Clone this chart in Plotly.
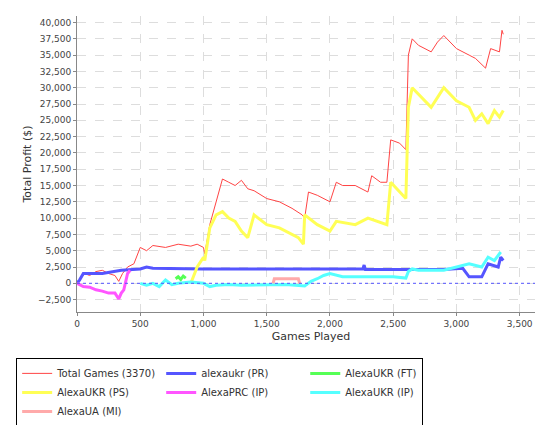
import plotly.graph_objects as go

# series data (games played, profit $)
total_x = [0, 30, 60, 100, 150, 200, 250, 300, 330, 360, 400, 450, 500, 550, 600, 700, 800, 900, 950, 1000, 1010,
           1050, 1100, 1150, 1200, 1250, 1300, 1350, 1400, 1500, 1600, 1700, 1780, 1800, 1830, 1900, 2000, 2050,
           2100, 2200, 2300, 2330, 2400, 2450, 2480, 2550, 2600, 2620, 2650, 2700, 2800, 2850, 2900, 2950, 3000,
           3100, 3150, 3230, 3270, 3340, 3360, 3370]
total_y = [0, 800, 1500, 1200, 1800, 2000, 1500, 1200, 300, 1500, 2500, 3000, 5500, 5000, 5800, 5500, 6000, 5700, 6000,
           5500, 4500, 9000, 12500, 16000, 15500, 15000, 15800, 14500, 14200, 13000, 12500, 11500, 10500, 10000,
           14000, 13500, 12500, 15500, 15000, 15000, 14000, 16500, 15500, 15500, 22000, 21500, 20500, 35000, 37500,
           36500, 35500, 37000, 38000, 37000, 36000, 35000, 34500, 33000, 36000, 35500, 38800, 38200]

pr_x = [0, 20, 50, 200, 350, 500, 550, 600, 1000, 2260, 2270, 2280, 2900, 3050, 3100, 3200, 3250, 3330, 3350, 3370]
pr_y = [0, 500, 1500, 1500, 2000, 2200, 2500, 2300, 2200, 2200, 2800, 2100, 2100, 2300, 1000, 1000, 3000, 2500, 4000, 3500]

ft_x = [780, 800, 820, 840, 860]
ft_y = [700, 1000, 600, 1100, 800]

ps_x = [900, 950, 1000, 1010, 1050, 1100, 1150, 1200, 1250, 1300, 1350, 1400, 1500, 1600, 1750, 1790, 1800,
        1900, 2000, 2050, 2200, 2300, 2450, 2480, 2600, 2620, 2650, 2700, 2800, 2900, 3000, 3100, 3150, 3200,
        3250, 3300, 3340, 3370]
ps_y = [0, 2500, 4000, 3500, 8500, 10500, 11000, 10000, 9500, 8000, 7000, 10500, 9000, 8500, 7000, 6000, 10500,
        9000, 8000, 9500, 9000, 10000, 9000, 15500, 13000, 27000, 30000, 29000, 27000, 30000, 28000, 27000, 25000,
        26000, 24500, 26500, 25500, 26500]

prc_x = [0, 50, 100, 150, 200, 250, 300, 330, 350, 370, 400, 420]
prc_y = [0, -500, -600, -1000, -1200, -1500, -1500, -2400, -1500, -1000, 1500, 2000]

ip_x = [500, 550, 600, 650, 700, 750, 800, 900, 1000, 1050, 1100, 1200, 1300, 1500, 1650, 1800, 1850, 1900,
        1950, 2000, 2100, 2300, 2500, 2600, 2620, 2650, 2700, 2900, 3000, 3100, 3200, 3250, 3300, 3350]
ip_y = [0, -300, 0, -500, 500, -200, 0, 200, 0, -500, -300, -200, -300, -300, -200, -400, 300, 700, 1200,
        1500, 1000, 1000, 1000, 800, 1800, 2200, 2000, 2000, 2500, 3000, 2500, 4000, 3500, 4800]

ua_x = [1550, 1560, 1750, 1760]
ua_y = [0, 700, 700, 0]

series = [
    ("Total Games (3370)", total_x, total_y, "#ff4444", 1),
    ("alexaukr (PR)", pr_x, pr_y, "#5555ff", 3),
    ("AlexaUKR (FT)", ft_x, ft_y, "#55ff55", 3),
    ("AlexaUKR (PS)", ps_x, ps_y, "#ffff55", 3),
    ("AlexaPRC (IP)", prc_x, prc_y, "#ff55ff", 3),
    ("AlexaUKR (IP)", ip_x, ip_y, "#55ffff", 3),
    ("AlexaUA (MI)", ua_x, ua_y, "#ffaaaa", 3),
]

fig = go.Figure()
for name, xs, ys, color, w in series:
    fig.add_trace(go.Scatter(x=xs, y=ys, name=name, mode="lines", line=dict(color=color, width=w)))

fig.add_hline(y=0, line=dict(color="#5555ff", width=1, dash="dot"))

axis = dict(showgrid=True, gridcolor="#dddddd", griddash="dash", zeroline=False, showline=True,
            linecolor="#888888", ticks="outside", ticklen=3, tickcolor="#888888", tickformat=",",
            tickfont=dict(size=9, color="#444444"))
fig.update_xaxes(axis, range=[0, 3700], dtick=500, title=dict(text="Games Played", font=dict(size=11), standoff=4))
fig.update_yaxes(axis, range=[-4400, 41000], dtick=2500, title=dict(text="Total Profit ($)", font=dict(size=11), standoff=4))

fig.update_layout(
    width=543, height=425, margin=dict(l=69, r=6, t=8, b=89),
    paper_bgcolor="white", plot_bgcolor="white",
    font=dict(family="DejaVu Sans", color="#333333"),
    legend=dict(orientation="h", x=-0.13, y=-0.155, yanchor="top", bordercolor="black", borderwidth=1,
                font=dict(size=10), tracegroupgap=0, itemwidth=30),
)

fig.write_html("out.html")
